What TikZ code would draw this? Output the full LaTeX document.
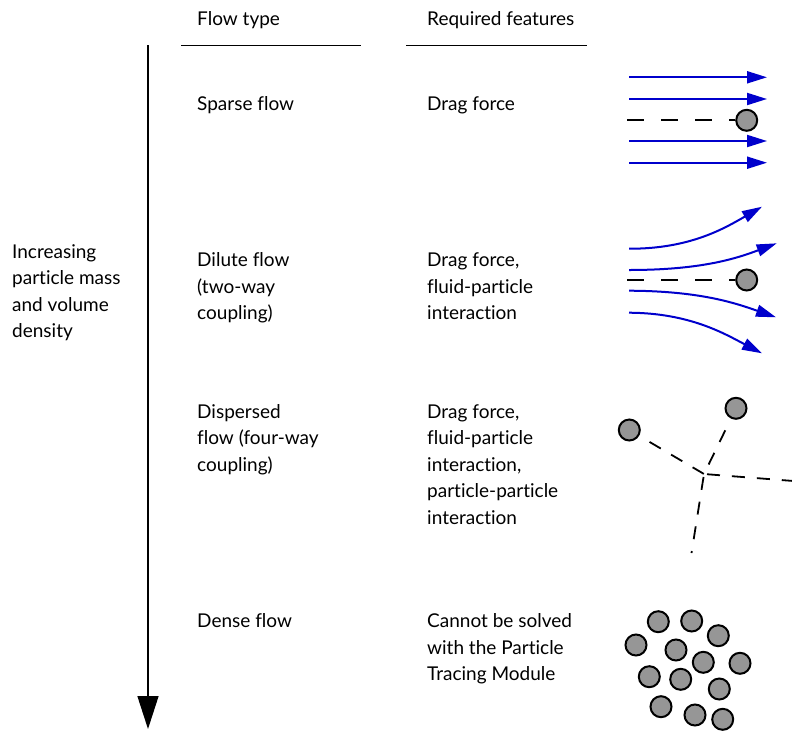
\documentclass[tikz,border=0pt]{standalone}
\usepackage{fontspec}
\setmainfont{Lato}[Ligatures={NoCommon}]
\usetikzlibrary{arrows.meta}
\definecolor{flowblue}{RGB}{0,0,204}
\definecolor{partgray}{RGB}{150,150,150}
\tikzset{
  lbl/.style={anchor=base west, inner sep=0pt, align=left, font=\fontsize{19}{26.5}\selectfont},
  hline/.style={line width=1pt},
  particle/.style={circle, draw=black, fill=partgray, line width=2pt, minimum size=21pt, inner sep=0pt},
  stream/.style={flowblue, line width=2pt, -{Triangle[length=20pt,width=12pt]}},
  dashline/.style={line width=1.8pt, dash pattern=on 17pt off 17pt},
  trackline/.style={line width=1.8pt, dash pattern=on 13pt off 12pt},
}
\begin{document}
\begin{tikzpicture}[x=1pt,y=-1pt]
\useasboundingbox (0,0) rectangle (792,731);
\clip (0,0) rectangle (792,731);

% headers (base anchor = baseline of the last line)
\node[lbl] (h1) at (197,25) {Flow type};
\node[lbl] (h2) at (427,25) {Required features};
\coordinate (l1a) at (181,45); \coordinate (l1b) at (361,45);
\coordinate (l2a) at (406,45); \coordinate (l2b) at (587,45);
\draw[hline] (l1a) -- (l1b);
\draw[hline] (l2a) -- (l2b);

% main arrow
\coordinate (ma) at (148,45); \coordinate (mb) at (148,729);
\draw[line width=1.5pt, -{Triangle[length=33pt,width=21pt]}] (ma) -- (mb);
\node[lbl] (side) at (12,337.8) {Increasing\\particle mass\\and volume\\density};

% rows text
\node[lbl] (t1) at (197,110) {Sparse flow};
\node[lbl] (f1) at (427,110) {Drag force};
\node[lbl] (t2) at (197,319.7) {Dilute flow\\(two-way\\coupling)};
\node[lbl] (f2) at (427,319.7) {Drag force,\\fluid-particle\\interaction};
\node[lbl] (t3) at (197,471.3) {Dispersed\\flow (four-way\\coupling)};
\node[lbl] (f3) at (427,524.3) {Drag force,\\fluid-particle\\interaction,\\particle-particle\\interaction};
\node[lbl] (t4) at (197,627.5) {Dense flow};
\node[lbl] (f4) at (427,680.5) {Cannot be solved\\with the Particle\\Tracing Module};

% sparse flow
\foreach \y/\n in {77.3/a,99/b,141/c,162.7/d}{
  \coordinate (s\n1) at (629,\y); \coordinate (s\n2) at (767,\y);
  \draw[stream] (s\n1) -- (s\n2);
}
\node[particle] (p1) at (746.7,120.3) {};
\coordinate (d1) at (627,120.3);
\draw[dashline] (d1) -- (p1);

% dilute flow
\coordinate (c1a) at (629,248.7); \coordinate (c1b) at (762,206.7);
\coordinate (c2a) at (629,270);   \coordinate (c2b) at (776.7,243.3);
\coordinate (c3a) at (629,290.7); \coordinate (c3b) at (776,317.3);
\coordinate (c4a) at (629,312.7); \coordinate (c4b) at (762,353.3);
\draw[stream] (c1a) .. controls (690,249) and (725,228) .. (c1b);
\draw[stream] (c2a) .. controls (700,270) and (735,259) .. (c2b);
\draw[stream] (c3a) .. controls (700,291) and (735,303) .. (c3b);
\draw[stream] (c4a) .. controls (690,313) and (725,334) .. (c4b);
\node[particle] (p2) at (746.7,280) {};
\coordinate (d2) at (627,280);
\draw[dashline] (d2) -- (p2);

% dispersed flow
\node[particle] (pa) at (629.3,430) {};
\node[particle] (pb) at (736,408.3) {};
\coordinate (J) at (704,474);
\coordinate (JR) at (800,481.5);
\coordinate (JD) at (691.5,553);
\draw[trackline, shorten <=12pt] (pa) -- (J);
\draw[trackline, shorten <=13pt] (pb) -- (J);
\draw[trackline, shorten <=3pt] (J) -- (JR);
\draw[trackline, shorten <=3pt] (J) -- (JD);

% dense flow
\foreach \x/\y [count=\i] in {658.3/621.7, 691.7/621, 718.3/635.7, 636/645, 676/650, 703.3/662.3, 740/663.3, 649.3/676.7, 680.7/679.3, 719.3/689, 661/706.7, 695/715, 722.7/719.3}{
  \node[particle] (q\i) at (\x,\y) {};
}
\end{tikzpicture}
\end{document}
